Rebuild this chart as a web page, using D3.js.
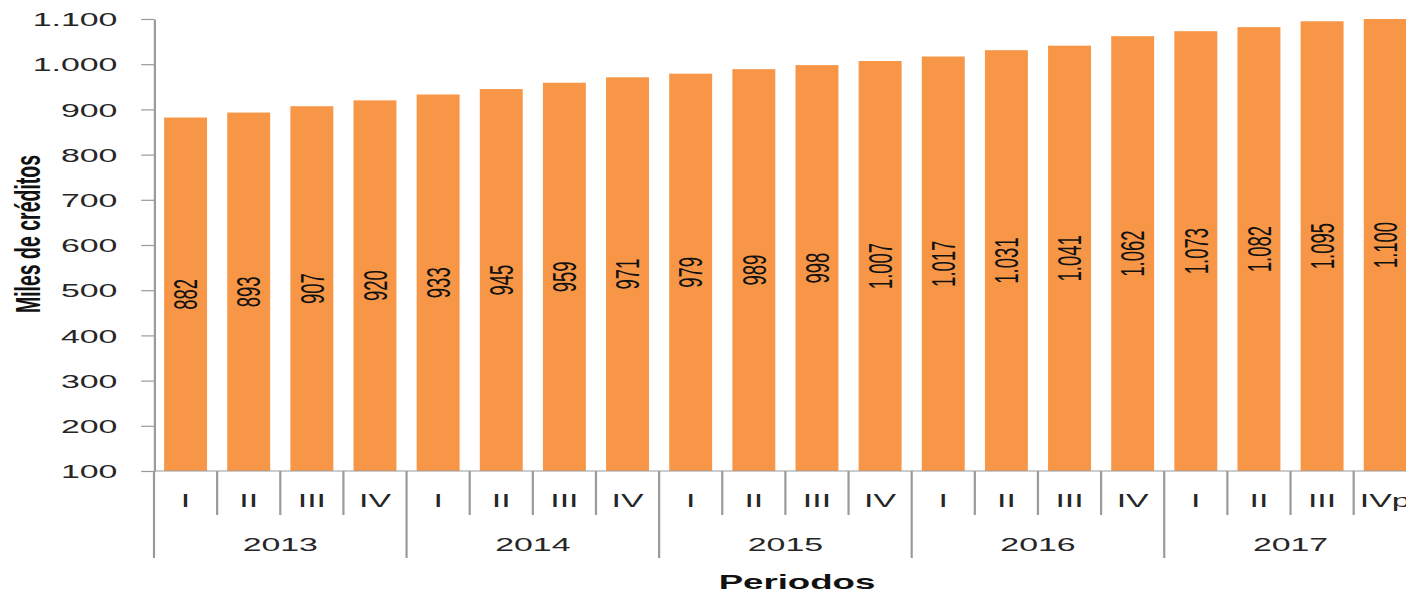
<!DOCTYPE html>
<html>
<head>
<meta charset="utf-8">
<script src="https://cdn.jsdelivr.net/npm/d3@7"></script>
<style>
  body { margin: 0; background: #fff; }
  svg { display: block; }
</style>
</head>
<body>
<script>
// data
var years = ["2013", "2014", "2015", "2016", "2017"];
var quarters = ["I", "II", "III", "IV", "I", "II", "III", "IV", "I", "II", "III", "IV",
  "I", "II", "III", "IV", "I", "II", "III", "IVp"];
var values = [882, 893, 907, 920, 933, 945, 959, 971, 979, 989, 998, 1007,
  1017, 1031, 1041, 1062, 1073, 1082, 1095, 1100];
var yTicks = [100, 200, 300, 400, 500, 600, 700, 800, 900, 1000, 1100];

var width = 1406,
  height = 592;
// the original picture is stretched sideways, so draw narrow and stretch the svg
var stretch = 1.83;
var vbWidth = width / stretch;
var margin = {
  top: 19,
  bottom: 471,
  left: 154 / stretch
};
var step = 63.14 / stretch;
var textColor = "#262626";
var axisColor = "#9a9a9a";

var locale = d3.formatLocale({ decimal: ",", thousands: ".", grouping: [3], currency: ["$", ""] });
var fmt = locale.format(",");

var svg = d3.select("body")
  .append("svg")
  .attr("width", width)
  .attr("height", height)
  .attr("viewBox", [0, 0, vbWidth, height])
  .attr("preserveAspectRatio", "none")
  .style("font-family", "'Liberation Sans', Arial, sans-serif");

// scales
var xScale = d3.scaleBand()
  .domain(d3.range(values.length))
  .range([margin.left, margin.left + step * values.length])
  .paddingInner(0.32)
  .paddingOuter(0.16);

var yScale = d3.scaleLinear()
  .domain([100, 1100])
  .range([margin.bottom, margin.top]);

// bars
svg.selectAll(".bar")
  .data(values)
  .enter()
  .append("rect")
  .attr("class", "bar")
  .attr("x", function(d, i) { return xScale(i); })
  .attr("y", function(d) { return yScale(d); })
  .attr("width", xScale.bandwidth())
  .attr("height", function(d) { return yScale(100) - yScale(d); })
  .attr("fill", "#F79646");

// value labels, rotated inside the bars
svg.selectAll(".val")
  .data(values)
  .enter()
  .append("text")
  .attr("class", "val")
  .attr("transform", function(d, i) {
    var cx = xScale(i) + xScale.bandwidth() / 2;
    var cy = (yScale(d) + yScale(100)) / 2;
    return "translate(" + cx + "," + cy + ") rotate(-90)";
  })
  .attr("text-anchor", "middle")
  .attr("dominant-baseline", "central")
  .style("font-size", "18.5px")
  .attr("fill", "#111")
  .text(function(d) { return fmt(d); });

// y axis
var yAxis = svg.append("g")
  .attr("transform", "translate(" + margin.left + ",0)")
  .call(d3.axisLeft(yScale).tickValues(yTicks).tickSize(7).tickSizeOuter(0).tickPadding(13).tickFormat(fmt));
yAxis.selectAll("path, line").attr("stroke", axisColor).attr("stroke-width", 1.2);
yAxis.selectAll("text").attr("fill", textColor).style("font-size", "18.5px").attr("dy", "0.36em");

// x axis line
svg.append("line")
  .attr("x1", margin.left).attr("x2", vbWidth + 10)
  .attr("y1", yScale(100)).attr("y2", yScale(100))
  .attr("stroke", axisColor).attr("stroke-width", 1.2);

// category separators, longer at the start of each year
svg.selectAll(".sep")
  .data(d3.range(values.length + 1))
  .enter()
  .append("line")
  .attr("class", "sep")
  .attr("x1", function(i) { return margin.left + i * xScale.step(); })
  .attr("x2", function(i) { return margin.left + i * xScale.step(); })
  .attr("y1", yScale(100))
  .attr("y2", function(i) { return i % 4 === 0 ? 558 : 515; })
  .attr("stroke", axisColor)
  .attr("stroke-width", 1.2);

// quarter labels
svg.selectAll(".qlab")
  .data(quarters)
  .enter()
  .append("text")
  .attr("class", "qlab")
  .attr("x", function(d, i) { return xScale(i) + xScale.bandwidth() / 2; })
  .attr("y", 501)
  .attr("text-anchor", "middle")
  .attr("dominant-baseline", "central")
  .style("font-size", "18.5px")
  .attr("fill", textColor)
  .text(function(d) { return d; });

// year labels
svg.selectAll(".ylab")
  .data(years)
  .enter()
  .append("text")
  .attr("class", "ylab")
  .attr("x", function(d, i) { return margin.left + (i * 4 + 2) * xScale.step(); })
  .attr("y", 545)
  .attr("text-anchor", "middle")
  .attr("dominant-baseline", "central")
  .style("font-size", "18.5px")
  .attr("fill", textColor)
  .text(function(d) { return d; });

// axis titles
svg.append("text")
  .attr("transform", "translate(" + (28 / stretch) + ",234) rotate(-90)")
  .attr("text-anchor", "middle")
  .attr("dominant-baseline", "central")
  .style("font-size", "19.5px")
  .style("font-weight", "bold")
  .attr("fill", "#111")
  .text("Miles de créditos");

svg.append("text")
  .attr("x", 797 / stretch)
  .attr("y", 582)
  .attr("text-anchor", "middle")
  .attr("dominant-baseline", "central")
  .style("font-size", "20px")
  .style("font-weight", "bold")
  .attr("fill", "#111")
  .text("Periodos");
</script>
</body>
</html>
